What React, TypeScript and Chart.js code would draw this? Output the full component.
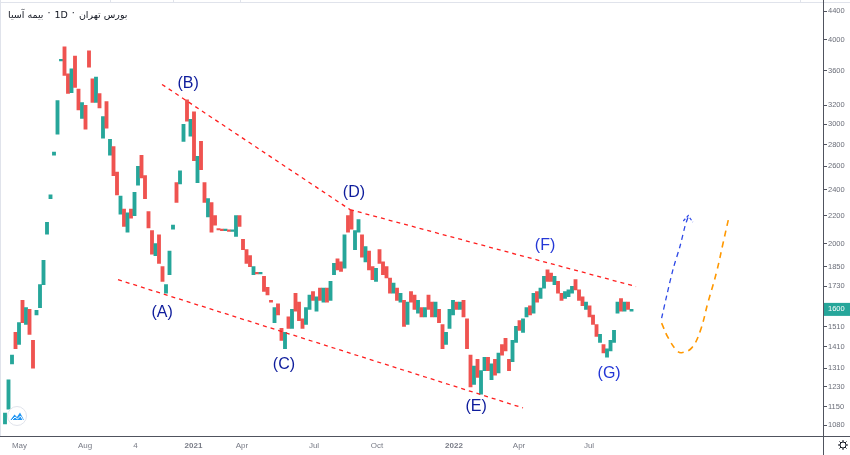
import React, { useEffect, useRef } from "react";
import { Chart, registerables } from "chart.js";

Chart.register(...registerables);

// ---- data ----
const opens = [
  1085, 1140, 1330, 1480, 1420, 1650, 1520, 1600, 1440, 1570,
  1610, 1740, 2065, 2330, 2700, 2900, 3720, 3900, 3560, 3340,
  3780, 3380, 3060, 3200, 3850, 3500, 3230, 3330, 2860, 3240,
  2700, 2780, 2550, 2210, 2250, 2080, 2250, 2200, 2440, 2700,
  2520, 2230, 2090, 1920, 2060, 1850, 1690, 1800, 2100, 2460,
  2450, 2830, 3260, 2880, 3130, 2460, 2830, 2460, 2190, 2300,
  2200, 2100, 2095, 2090, 2090, 2085, 2050, 2200, 2030, 1960,
  1920, 1800, 1810, 1805, 1790, 1725, 1650, 1530, 1630, 1500,
  1400, 1560, 1500, 1690, 1640, 1550, 1520, 1600, 1700, 1590,
  1720, 1640, 1720, 1650, 1800, 1900, 1880, 1840, 2200, 2240,
  1960, 2080, 2060, 1880, 1950, 1850, 1760, 1960, 1880, 1850,
  1780, 1690, 1720, 1640, 1650, 1520, 1700, 1680, 1580, 1610,
  1560, 1680, 1640, 1560, 1600, 1520, 1420, 1500, 1570, 1640,
  1600, 1650, 1550, 1370, 1240, 1350, 1200, 1300, 1360, 1260,
  1350, 1290, 1420, 1450, 1350, 1340, 1430, 1540, 1480, 1560,
  1620, 1580, 1700, 1660, 1720, 1830, 1810, 1740, 1760, 1690,
  1660, 1670, 1690, 1770, 1710, 1670, 1600, 1620, 1570, 1520,
  1430, 1420, 1360, 1390, 1430, 1580, 1660, 1590, 1640, 1590,
];

const closes = [
  1125, 1260, 1370, 1400, 1530, 1530, 1610, 1470, 1310, 1595,
  1740, 1890, 2150, 2360, 2730, 3250, 3740, 3540, 3330, 3620,
  3400, 3150, 3230, 2950, 3640, 3230, 3520, 3170, 3080, 2960,
  2850, 2520, 2360, 2350, 2120, 2220, 2180, 2380, 2600, 2500,
  2330, 2110, 1930, 2000, 1870, 1760, 1740, 1950, 2130, 2300,
  2560, 3000, 3030, 3050, 2650, 2690, 2570, 2300, 2330, 2080,
  2130, 2095, 2090, 2095, 2085, 2090, 2200, 2120, 1960, 1870,
  1850, 1850, 1805, 1808, 1700, 1680, 1640, 1610, 1570, 1440,
  1480, 1500, 1600, 1590, 1540, 1500, 1610, 1680, 1650, 1670,
  1650, 1720, 1640, 1760, 1870, 1830, 1820, 2060, 2080, 2100,
  2090, 2170, 1910, 1980, 1830, 1770, 1840, 1870, 1800, 1780,
  1690, 1750, 1650, 1690, 1510, 1640, 1640, 1600, 1650, 1560,
  1610, 1600, 1560, 1640, 1530, 1400, 1480, 1600, 1650, 1600,
  1640, 1560, 1400, 1230, 1320, 1270, 1300, 1360, 1300, 1330,
  1280, 1380, 1370, 1390, 1300, 1440, 1510, 1490, 1550, 1610,
  1570, 1690, 1640, 1720, 1790, 1760, 1760, 1790, 1690, 1650,
  1700, 1710, 1730, 1710, 1650, 1620, 1640, 1560, 1520, 1460,
  1470, 1380, 1400, 1440, 1490, 1640, 1590, 1640, 1600, 1600,
];

const xTickPositions = [4.14, 22.86, 37.29, 53.86, 67.71, 88.29, 106.29, 128.29, 146.86, 166.86];
const xTickLabels = ["May", "Aug", "4", "2021", "Apr", "Jul", "Oct", "2022", "Apr", "Jul"];
const yTickValues = [1080, 1150, 1230, 1310, 1410, 1510, 1600, 1730, 1850, 2000, 2200, 2400, 2600, 2800, 3000, 3200, 3600, 4000, 4400];

// trend lines / projections (bar index, price)
const lineBD = [{ x: 44.86, y: 3434 }, { x: 98.57, y: 2245 }];
const lineDF = [{ x: 98.57, y: 2245 }, { x: 180.29, y: 1729 }];
const lineAE = [{ x: 32.29, y: 1770 }, { x: 148.0, y: 1145 }];
const bluePath = [
  { x: 187.6, y: 1553 }, { x: 189.1, y: 1680 }, { x: 190.9, y: 1836 },
  { x: 192.9, y: 1986 }, { x: 194.3, y: 2124 }, { x: 195.2, y: 2191 },
];
const blueArrow = [{ x: 193.8, y: 2160 }, { x: 195.2, y: 2200 }, { x: 196.5, y: 2152 }];
const orangePath = [
  { x: 187.6, y: 1527 }, { x: 189.5, y: 1452 }, { x: 191.9, y: 1392 }, { x: 193.3, y: 1381 },
  { x: 196.2, y: 1404 }, { x: 198.6, y: 1485 }, { x: 200.9, y: 1642 }, { x: 203.3, y: 1816 },
  { x: 205.2, y: 2008 }, { x: 206.9, y: 2196 },
];

const waveLabels = ["(A)", "(B)", "(C)", "(D)", "(E)", "(F)", "(G)"];
const waveX = [44.9, 52.3, 79.7, 99.7, 134.6, 154.3, 172.6];
const waveY = [1585, 3445, 1327, 2376, 1150, 1990, 1288];

// visual order, left to right
const titleParts = ["بیمه آسیا", "·", "1D", "·", "بورس تهران"];

const X_MIN = -1.4286;
const X_MAX = 233.71;
const Y_MIN = 1041;
const Y_MAX = 4489;

const UP = "#26a69a";
const DOWN = "#ef5350";
const AXIS = "#50535e";
const LATIN = '"Liberation Sans", Arial, sans-serif';

const overlay = {
  id: "overlay",
  afterDatasetsDraw(chart: any) {
    const { ctx, scales } = chart;
    ctx.save();
    ctx.font = `16px ${LATIN}`;
    ctx.textAlign = "center";
    ctx.textBaseline = "middle";
    waveLabels.forEach((t, i) => {
      ctx.fillStyle = i >= 5 ? "#2437d6" : "#0e1c9c";
      ctx.fillText(t, scales.x.getPixelForValue(waveX[i]), scales.y.getPixelForValue(waveY[i]));
    });
    ctx.restore();
  },
  afterDraw(chart: any) {
    const { ctx, chartArea, scales } = chart;
    const W = chart.width;
    const H = chart.height;
    ctx.save();
    // top strip
    ctx.strokeStyle = "#e0e3eb";
    ctx.lineWidth = 1;
    ctx.beginPath();
    ctx.moveTo(0, 2.5);
    ctx.lineTo(W, 2.5);
    [110, 173, 240, 800].forEach((x) => {
      ctx.moveTo(x + 0.5, 0);
      ctx.lineTo(x + 0.5, 3);
    });
    ctx.moveTo(0.5, 0);
    ctx.lineTo(0.5, chartArea.bottom);
    ctx.stroke();
    // axes
    ctx.strokeStyle = AXIS;
    ctx.beginPath();
    ctx.moveTo(Math.round(chartArea.right) + 0.5, 0);
    ctx.lineTo(Math.round(chartArea.right) + 0.5, H);
    ctx.moveTo(0, Math.round(chartArea.bottom) + 0.5);
    ctx.lineTo(W, Math.round(chartArea.bottom) + 0.5);
    ctx.stroke();
    // last price box
    const last = closes[closes.length - 1];
    const py = scales.y.getPixelForValue(last);
    ctx.fillStyle = UP;
    ctx.fillRect(chartArea.right + 1, py - 6.5, W - chartArea.right - 1, 13);
    ctx.fillStyle = "#ffffff";
    ctx.font = `7.5px ${LATIN}`;
    ctx.textAlign = "left";
    ctx.textBaseline = "middle";
    ctx.fillText(String(last), chartArea.right + 5, py);
    // title
    ctx.font = '9.5px "DejaVu Sans", sans-serif';
    ctx.fillStyle = "#131722";
    ctx.direction = "ltr";
    let tx = 8;
    titleParts.forEach((p) => {
      ctx.fillText(p, tx, p === "·" ? 14 : 16);
      tx += ctx.measureText(p).width + 4;
    });
    // logo
    ctx.beginPath();
    ctx.arc(17, 416, 9.5, 0, Math.PI * 2);
    ctx.fillStyle = "#ffffff";
    ctx.fill();
    ctx.strokeStyle = "#e0e3eb";
    ctx.stroke();
    ctx.fillStyle = "#2196f3";
    ctx.beginPath();
    ctx.moveTo(10.5, 420);
    ctx.lineTo(14.5, 414.5);
    ctx.lineTo(17, 417);
    ctx.lineTo(20, 412.5);
    ctx.lineTo(24, 420);
    ctx.closePath();
    ctx.fill();
    ctx.strokeStyle = "#ffffff";
    ctx.lineWidth = 1;
    ctx.beginPath();
    ctx.moveTo(12, 420);
    ctx.lineTo(15, 417);
    ctx.lineTo(17.5, 419);
    ctx.lineTo(20.5, 416);
    ctx.lineTo(23, 420);
    ctx.stroke();
    // gear
    const gx = 843, gy = 445;
    ctx.strokeStyle = "#131722";
    ctx.lineWidth = 1;
    ctx.beginPath();
    ctx.arc(gx, gy, 3, 0, Math.PI * 2);
    ctx.stroke();
    ctx.beginPath();
    for (let k = 0; k < 8; k++) {
      const a = (k * Math.PI) / 4;
      ctx.moveTo(gx + Math.cos(a) * 3, gy + Math.sin(a) * 3);
      ctx.lineTo(gx + Math.cos(a) * 5, gy + Math.sin(a) * 5);
    }
    ctx.stroke();
    ctx.restore();
  },
};

function dashed(data: any[], color: string, dash: number[], width: number, tension = 0) {
  return {
    type: "line" as const,
    data,
    borderColor: color,
    borderWidth: width,
    borderDash: dash,
    pointRadius: 0,
    fill: false,
    tension,
    order: 1,
  };
}

export default function App() {
  const canvasRef = useRef<HTMLCanvasElement | null>(null);

  useEffect(() => {
    document.body.style.margin = "0";
    const canvas = canvasRef.current;
    if (!canvas) return;
    const chart = new Chart(canvas, {
      type: "bar",
      data: {
        datasets: [
          {
            type: "bar",
            data: opens.map((o, i) => ({ x: i, y: [o, closes[i]] })) as any,
            backgroundColor: opens.map((o, i) => (closes[i] >= o ? UP : DOWN)),
            borderWidth: 0,
            barThickness: 3.2,
            minBarLength: 1.5,
            grouped: false,
            order: 3,
          } as any,
          dashed(lineBD, "#ff1f1f", [4, 4], 1.3),
          dashed(lineDF, "#ff1f1f", [4, 4], 1.3),
          dashed(lineAE, "#ff1f1f", [4, 4], 1.3),
          dashed(bluePath, "#2e49e6", [5, 4], 1.3, 0.3),
          dashed(blueArrow, "#2e49e6", [3, 2], 1.2),
          dashed(orangePath, "#ff9800", [6, 5], 1.6, 0.4),
        ],
      },
      options: {
        responsive: false,
        animation: false,
        events: [],
        layout: { padding: 0 },
        plugins: { legend: { display: false }, tooltip: { enabled: false } },
        scales: {
          x: {
            type: "linear",
            min: X_MIN,
            max: X_MAX,
            offset: false,
            bounds: "data",
            grid: { display: false, drawTicks: false },
            border: { display: false },
            ticks: {
              autoSkip: false,
              maxRotation: 0,
              padding: 5,
              color: "#787b86",
              font: (c: any) => ({
                family: LATIN,
                size: 8,
                weight: /^\d{4}$/.test(xTickLabels[c.index] || "") ? "bold" : "normal",
              }),
              callback: (_v: any, i: number) => xTickLabels[i],
            },
            afterBuildTicks: (s: any) => {
              s.ticks = xTickPositions.map((v) => ({ value: v }));
            },
            afterFit: (s: any) => {
              s.height = 19;
            },
          } as any,
          y: {
            type: "logarithmic",
            position: "right",
            min: Y_MIN,
            max: Y_MAX,
            bounds: "data",
            grid: { display: true, drawOnChartArea: false, drawTicks: true, tickLength: 4, color: AXIS },
            border: { display: false },
            ticks: {
              autoSkip: false,
              padding: 1,
              color: "#6a6d78",
              font: { family: LATIN, size: 7.5 },
              callback: (v: any) => String(v),
            },
            afterBuildTicks: (s: any) => {
              s.ticks = yTickValues.map((v) => ({ value: v }));
            },
            afterFit: (s: any) => {
              s.width = 27;
            },
          } as any,
        },
      },
      plugins: [overlay],
    });
    return () => chart.destroy();
  }, []);

  return (
    <div style={{ width: 850, height: 455, background: "#ffffff" }}>
      <canvas ref={canvasRef} width={850} height={455} style={{ display: "block" }} />
    </div>
  );
}
